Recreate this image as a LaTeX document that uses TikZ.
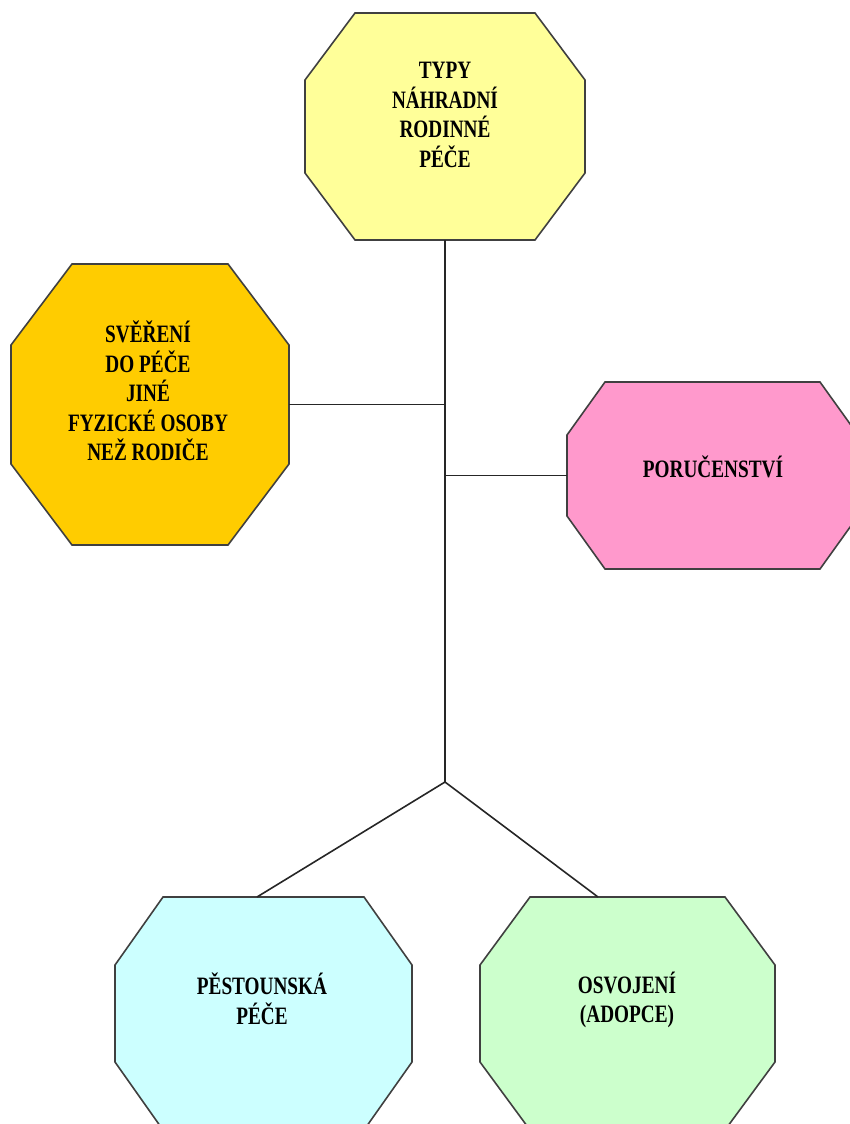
\documentclass[tikz,border=0pt]{standalone}
\usepackage{fontspec}
\newfontfamily\lblfont{Liberation Serif}[FakeStretch=0.77]
\usetikzlibrary{calc,backgrounds}
\definecolor{octyellow}{HTML}{FFFF99}
\definecolor{octorange}{HTML}{FFCC00}
\definecolor{octpink}{HTML}{FF99CC}
\definecolor{octcyan}{HTML}{CCFFFF}
\definecolor{octgreen}{HTML}{CCFFCC}
\definecolor{edgegray}{HTML}{404040}
\newcommand\octshape[4]{% node, fill, hcut, vcut
  \filldraw[octline,fill=#2]
    ($(#1.north west)+(#3,0)$) -- ($(#1.north east)+(-#3,0)$) --
    ($(#1.north east)+(0,#4)$) -- ($(#1.south east)+(0,-#4)$) --
    ($(#1.south east)+(-#3,0)$) -- ($(#1.south west)+(#3,0)$) --
    ($(#1.south west)+(0,-#4)$) -- ($(#1.north west)+(0,#4)$) -- cycle;}
\begin{document}
\begin{tikzpicture}[x=1pt,y=-1pt,
  octbox/.style={inner sep=0pt,outer sep=0pt,minimum width=#1},
  octline/.style={draw=edgegray,line width=1.6pt,line join=miter},
  lbl/.style={align=center,inner sep=0pt,text=black,
    font=\lblfont\bfseries\fontsize{25}{29.5}\selectfont},
  conn/.style={draw=black!85,line width=1.6pt}]
\useasboundingbox (0,0) rectangle (850,1124);
\clip (0,0) rectangle (850,1124);
% octagon frames
\node[octbox=280pt,minimum height=227pt] (top) at (445,126.5) {};
\node[octbox=278pt,minimum height=281pt] (left) at (150,404.5) {};
\node[octbox=291pt,minimum height=187pt] (right) at (712.5,475.5) {};
\node[octbox=297pt,minimum height=233pt] (bl) at (263.5,1013.5) {};
\node[octbox=295pt,minimum height=233pt] (br) at (627.5,1013.5) {};
\begin{scope}[on background layer]
  \octshape{top}{octyellow}{50}{67}
  \octshape{left}{octorange}{61}{81}
  \octshape{right}{octpink}{38}{53}
  \octshape{bl}{octcyan}{48}{68}
  \octshape{br}{octgreen}{50}{68}
\end{scope}
% labels
\node[lbl] (toptext) at (445,115) {TYPY\\NÁHRADNÍ\\RODINNÉ\\PÉČE};
\node[lbl] (lefttext) at (148,391) {SVĚŘENÍ\\DO PÉČE\\JINÉ\\FYZICKÉ OSOBY\\NEŽ RODIČE};
\node[lbl] (righttext) at (713,467) {PORUČENSTVÍ};
\node[lbl] (bltext) at (262,999) {PĚSTOUNSKÁ\\PÉČE};
\node[lbl] (brtext) at (627,1000) {OSVOJENÍ\\(ADOPCE)};
% connectors
\coordinate (jb) at (445,782);
\draw[conn] (top.south) -- (jb);
\draw[conn] (left.east) -- (left.east -| top.south);
\draw[conn] (right.west -| top.south) -- (right.west);
\draw[conn] (jb) -- ([xshift=-6.5pt]bl.north);
\draw[conn] (jb) -- ([xshift=-29.5pt]br.north);
\end{tikzpicture}
\end{document}
